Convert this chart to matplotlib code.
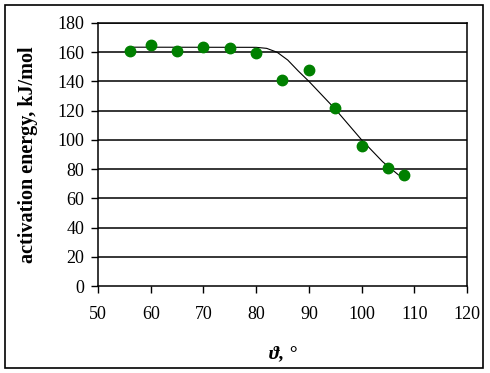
import matplotlib.pyplot as plt
from matplotlib.patches import Rectangle

# measured points
theta = [56, 60, 65, 70, 75, 80, 85, 90, 95, 100, 105, 108]
energy = [161, 165, 161, 163.5, 163, 159.5, 141, 147.5, 121.5, 96, 81, 76]

# fitted trend line
fit_x = [56, 80, 82, 84, 86, 88, 90, 95, 100, 104, 107]
fit_y = [163.3, 163.2, 162.5, 159.8, 154.5, 147, 140, 121, 100, 85, 76]

plt.rcParams['font.family'] = ['Liberation Serif', 'DejaVu Serif']

fig = plt.figure(figsize=(4.9, 3.73), dpi=100)
ax = fig.add_axes([0.2, 0.233, 0.753, 0.706])

fig.patches.append(Rectangle((5 / 490, 5 / 373), 478 / 490, 363 / 373,
                             transform=fig.transFigure, fill=False,
                             edgecolor='black', linewidth=1.2))

for yv in range(20, 181, 20):
    ax.axhline(yv, color='black', linewidth=1.1, zorder=1)

ax.plot(fit_x, fit_y, color='black', linewidth=0.8, zorder=2)
ax.plot(theta, energy, 'o', color='#008000', markersize=7.5, zorder=3)

ax.set_xlim(50, 120)
ax.set_ylim(0, 180)
ax.set_xticks(range(50, 121, 10))
ax.set_yticks(range(0, 181, 20))
ax.tick_params(direction='out', length=5, width=1, labelsize=13)
ax.tick_params(axis='x', pad=9)
ax.tick_params(axis='y', pad=5)

for s in ax.spines.values():
    s.set_linewidth(1.1)

ax.set_ylabel('activation energy, kJ/mol', fontsize=14.5, fontweight='bold', labelpad=14)
ax.set_xlabel('ϑ, °', fontsize=14, fontweight='bold', style='italic', labelpad=16)

plt.savefig('out.png', dpi=100)
plt.close()
